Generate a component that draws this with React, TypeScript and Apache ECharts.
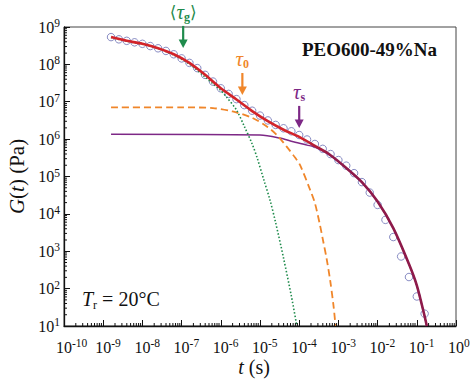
import React, { useEffect, useRef } from "react";
import * as echarts from "echarts";

const FONT = "'Liberation Serif', 'Times New Roman', Times, serif";

// Axis decades (exponents of 10) and minor-tick multipliers
const xTickExps = [-10, -9, -8, -7, -6, -5, -4, -3, -2, -1, 0];
const yTickExps = [1, 2, 3, 4, 5, 6, 7, 8, 9];
const minorMultipliers = [2, 3, 4, 5, 6, 7, 8, 9];

// Measured G(t) (open circles): log10 t and log10 G
const circleLogT = [
  -8.8, -8.6, -8.4, -8.2, -8.0, -7.8, -7.6, -7.4, -7.2, -7.0, -6.8, -6.6, -6.4, -6.2,
  -6.0, -5.8, -5.6, -5.4, -5.2, -5.0, -4.8, -4.6, -4.4, -4.2, -4.0, -3.8, -3.6, -3.4,
  -3.2, -3.0, -2.8, -2.6, -2.4, -2.2, -2.0, -1.8, -1.6, -1.4, -1.2, -1.0, -0.8,
];
const circleLogG = [
  8.73, 8.67, 8.63, 8.59, 8.55, 8.49, 8.43, 8.36, 8.27, 8.16, 8.04, 7.9, 7.72, 7.54,
  7.36, 7.21, 7.07, 6.91, 6.76, 6.63, 6.5, 6.38, 6.29, 6.21, 6.11, 5.99, 5.87, 5.74,
  5.6, 5.44, 5.29, 5.09, 4.85, 4.57, 4.24, 3.84, 3.38, 2.86, 2.31, 1.79, 1.33,
];

// Total fit (red / maroon solid)
const fitLogT = [-8.8, -8.4, -8.0, -7.6, -7.2, -6.8, -6.4, -6.0, -5.6, -5.2, -4.8, -4.4, -4.0, -3.6, -3.2, -2.8, -2.4, -2.0, -1.6, -1.2, -1.0, -0.8, -0.745];
const fitLogG = [8.73, 8.63, 8.55, 8.43, 8.27, 8.04, 7.72, 7.36, 7.06, 6.75, 6.48, 6.25, 6.06, 5.82, 5.57, 5.23, 4.85, 4.33, 3.62, 2.66, 2.09, 1.26, 1.0];

// Glassy component <tau_g> (green dotted)
const glassLogT = [-8.8, -8.4, -8.0, -7.6, -7.2, -6.8, -6.4, -6.2, -6.0, -5.85, -5.6, -5.4, -5.2, -5.07, -4.9, -4.745, -4.6, -4.4, -4.2, -4.06];
const glassLogG = [8.72, 8.62, 8.54, 8.42, 8.25, 8.01, 7.66, 7.48, 7.3, 7.12, 6.78, 6.34, 5.87, 5.49, 4.9, 4.37, 3.76, 2.82, 1.8, 1.0];

// tau_0 component (orange dashed)
const tau0LogT = [-8.8, -7.0, -6.2, -5.7, -5.2, -4.8, -4.57, -4.32, -4.1, -3.98, -3.72, -3.6, -3.47, -3.39, -3.3, -3.21, -3.12, -3.074];
const tau0LogG = [6.85, 6.85, 6.83, 6.74, 6.57, 6.32, 6.11, 5.8, 5.5, 5.31, 4.64, 4.29, 3.7, 3.28, 2.8, 2.22, 1.5, 1.0];

// tau_s component (purple solid)
const tauSLogT = [-8.8, -5.0, -4.5, -4.15, -3.8, -3.6, -3.2, -2.8, -2.4, -2.0, -1.6, -1.2, -1.0, -0.8, -0.745];
const tauSLogG = [6.13, 6.11, 6.03, 5.93, 5.84, 5.79, 5.56, 5.22, 4.84, 4.32, 3.61, 2.65, 2.08, 1.25, 1.0];

// Arrow annotations: tip position in data (log10) units
const arrowNames = ["g", "0", "s"];
const arrowLogT = [-6.96, -5.45, -4.0];
const arrowTipLogG = [8.44, 7.18, 6.3];
const arrowColors = ["#1f8b4c", "#f0862a", "#7d2886"];

const sampleLabel = "PEO600-49%Na";
const tempLabel = "20°C";

const P = (e: number) => Math.pow(10, e);
const pairs = (ts: number[], gs: number[]) => ts.map((t, i) => [P(t), P(gs[i])]);

const xMinor: number[] = [];
xTickExps.slice(0, -1).forEach((e) => minorMultipliers.forEach((m) => xMinor.push(m * P(e))));
const yMinor: number[] = [];
yTickExps.slice(0, -1).forEach((e) => minorMultipliers.forEach((m) => yMinor.push(m * P(e))));

const expOf = (v: number) => Math.round(Math.log10(v));

const BASE_SIZE = 16;
const labelRich = {
  b: { fontFamily: FONT, fontSize: BASE_SIZE, color: "#111", lineHeight: 20 },
  s: { fontFamily: FONT, fontSize: 11.5, color: "#111", lineHeight: 8, verticalAlign: "top" },
};
const graphicLabelRich = {
  b: { fontFamily: FONT, fontSize: BASE_SIZE, fill: "#111", lineHeight: 20 },
  s: { fontFamily: FONT, fontSize: 11.5, fill: "#111", lineHeight: 8, verticalAlign: "top" },
};

const RED = "#d2232a";
const MAROON = "#8e1a4a";

const option: any = {
  animation: false,
  backgroundColor: "#fff",
  grid: {
    left: 64,
    right: 18,
    top: 27,
    bottom: 60,
    show: true,
    borderColor: "#444",
    borderWidth: 1,
    containLabel: false,
    outerBoundsMode: "none",
  },
  xAxis: {
    type: "log",
    logBase: 10,
    min: P(xTickExps[0]),
    max: P(xTickExps[xTickExps.length - 1]),
    interval: 1,
    position: "bottom",
    name: "{i|t} (s)",
    nameLocation: "middle",
    nameGap: 31,
    nameTextStyle: {
      fontFamily: FONT,
      fontSize: 20,
      color: "#111",
      padding: [0, 12, 0, 0],
      rich: { i: { fontFamily: FONT, fontSize: 20, fontStyle: "italic", color: "#111" } },
    },
    axisLine: { show: true, lineStyle: { color: "#111", width: 1.3 } },
    axisTick: { show: true, inside: true, length: 6, lineStyle: { color: "#111", width: 1 } },
    splitLine: { show: false },
    // tick labels are drawn below as text at the axis' own tick positions
    axisLabel: { show: false },
  },
  yAxis: {
    type: "log",
    logBase: 10,
    min: P(yTickExps[0]),
    max: P(yTickExps[yTickExps.length - 1]),
    interval: 1,
    position: "left",
    name: "{i|G}({i|t}) (Pa)",
    nameLocation: "middle",
    nameRotate: 90,
    nameGap: 36,
    nameTextStyle: {
      fontFamily: FONT,
      fontSize: 21,
      color: "#111",
      rich: { i: { fontFamily: FONT, fontSize: 21, fontStyle: "italic", color: "#111" } },
    },
    axisLine: { show: true, lineStyle: { color: "#111", width: 1.3 } },
    axisTick: { show: true, inside: true, length: 6, lineStyle: { color: "#111", width: 1 } },
    splitLine: { show: false },
    axisLabel: {
      show: true,
      showMinLabel: true,
      showMaxLabel: true,
      hideOverlap: false,
      margin: 4,
      formatter: (v: number) => `{b|10}{s|${expOf(v)}}`,
      rich: labelRich,
    },
  },
  series: [
    {
      name: "data",
      type: "scatter",
      data: pairs(circleLogT, circleLogG),
      symbol: "circle",
      symbolSize: 7.5,
      itemStyle: { color: "rgba(0,0,0,0)", borderColor: "#6a6fb4", borderWidth: 1 },
      z: 1,
    },
    {
      name: "tau_s",
      type: "line",
      data: pairs(tauSLogT, tauSLogG),
      smooth: 0.3,
      showSymbol: false,
      lineStyle: { color: "#7d2886", width: 1.5 },
      z: 2,
    },
    {
      name: "tau_0",
      type: "line",
      data: pairs(tau0LogT, tau0LogG),
      smooth: 0.3,
      showSymbol: false,
      lineStyle: { color: "#f0862a", width: 1.8, type: [7, 4] },
      z: 2,
    },
    {
      name: "tau_g",
      type: "line",
      data: pairs(glassLogT, glassLogG),
      smooth: 0.3,
      showSymbol: false,
      lineStyle: { color: "#1f8b4c", width: 1.6, type: [1.5, 2] },
      z: 2,
    },
    {
      name: "fit",
      type: "line",
      data: pairs(fitLogT, fitLogG),
      smooth: 0.3,
      showSymbol: false,
      lineStyle: {
        width: 2.6,
        color: new echarts.graphic.LinearGradient(0, 0, 1, 0, [
          { offset: 0, color: RED },
          { offset: 0.6, color: RED },
          { offset: 0.7, color: MAROON },
          { offset: 1, color: MAROON },
        ]),
      },
      z: 3,
    },
  ],
};

export default function App() {
  const ref = useRef<HTMLDivElement>(null);
  useEffect(() => {
    const el = ref.current;
    if (!el) return;
    const chart = echarts.init(el, null, { renderer: "svg" });
    chart.setOption(option);

    const graphics: any[] = [
      {
        type: "text",
        right: 37,
        top: 40,
        style: {
          text: sampleLabel,
          fontFamily: FONT,
          fontSize: 19,
          fontWeight: "bold",
          fill: "#111",
        },
      },
      {
        type: "text",
        left: 82,
        top: 289,
        style: {
          text: `{i|T}{sub|r}{n| = ${tempLabel}}`,
          fontFamily: FONT,
          fontSize: 20,
          fill: "#111",
          rich: {
            i: { fontFamily: FONT, fontSize: 20, fontStyle: "italic", fill: "#111", lineHeight: 24 },
            sub: { fontFamily: FONT, fontSize: 12, fill: "#111", lineHeight: 12, verticalAlign: "bottom" },
            n: { fontFamily: FONT, fontSize: 20, fill: "#111", lineHeight: 24 },
          },
        },
      },
    ];

    const x0 = chart.convertToPixel({ xAxisIndex: 0 }, P(xTickExps[0])) as number;
    const y0 = chart.convertToPixel({ yAxisIndex: 0 }, P(yTickExps[0])) as number;

    // x tick labels: the "10" is centred on the tick, the exponent hangs to the right
    xTickExps.forEach((e) => {
      const px = chart.convertToPixel({ xAxisIndex: 0 }, P(e)) as number;
      graphics.push({
        type: "text",
        x: px - BASE_SIZE / 2,
        y: y0 + 11,
        silent: true,
        style: {
          text: `{b|10}{s|${e}}`,
          align: "left",
          verticalAlign: "top",
          fontFamily: FONT,
          fontSize: BASE_SIZE,
          fill: "#111",
          rich: graphicLabelRich,
        },
      });
    });

    // minor ticks (2..9 within each decade), placed through the axes' scales
    xMinor.forEach((v) => {
      const px = chart.convertToPixel({ xAxisIndex: 0 }, v) as number;
      graphics.push({
        type: "line",
        silent: true,
        shape: { x1: px, y1: y0, x2: px, y2: y0 - 3 },
        style: { stroke: "#111", lineWidth: 1 },
        z: 5,
      });
    });
    yMinor.forEach((v) => {
      const py = chart.convertToPixel({ yAxisIndex: 0 }, v) as number;
      graphics.push({
        type: "line",
        silent: true,
        shape: { x1: x0, y1: py, x2: x0 + 3, y2: py },
        style: { stroke: "#111", lineWidth: 1 },
        z: 5,
      });
    });

    arrowNames.forEach((nm, i) => {
      const pt = chart.convertToPixel({ xAxisIndex: 0, yAxisIndex: 0 }, [P(arrowLogT[i]), P(arrowTipLogG[i])]) as number[];
      const x = pt[0];
      const y = pt[1];
      const c = arrowColors[i];
      const txt = nm === "g" ? `{a|⟨}{t|τ}{sub|${nm}}{a|⟩}` : `{t|τ}{sub|${nm}}`;
      graphics.push({
        type: "line",
        shape: { x1: x, y1: y - 22, x2: x, y2: y - 7 },
        style: { stroke: c, lineWidth: 2.2 },
        z: 10,
      });
      graphics.push({
        type: "polygon",
        shape: { points: [[x - 4.5, y - 8.5], [x + 4.5, y - 8.5], [x, y]] },
        style: { fill: c },
        z: 10,
      });
      graphics.push({
        type: "text",
        x: x,
        y: y - 36,
        z: 10,
        style: {
          text: txt,
          align: "center",
          verticalAlign: "middle",
          fontFamily: FONT,
          fontSize: 20,
          fill: c,
          rich: {
            a: { fontFamily: "'DejaVu Serif', " + FONT, fontSize: 17, fill: c, lineHeight: 22 },
            t: { fontFamily: FONT, fontSize: 21, fontStyle: "italic", fill: c, lineHeight: 22 },
            sub: { fontFamily: FONT, fontSize: 12, fontWeight: "bold", fill: c, lineHeight: 12, verticalAlign: "bottom" },
          },
        },
      });
    });

    chart.setOption({ graphic: graphics });
    return () => chart.dispose();
  }, []);
  return <div ref={ref} style={{ position: "fixed", left: 0, top: 0, width: 474, height: 386 }} />;
}
